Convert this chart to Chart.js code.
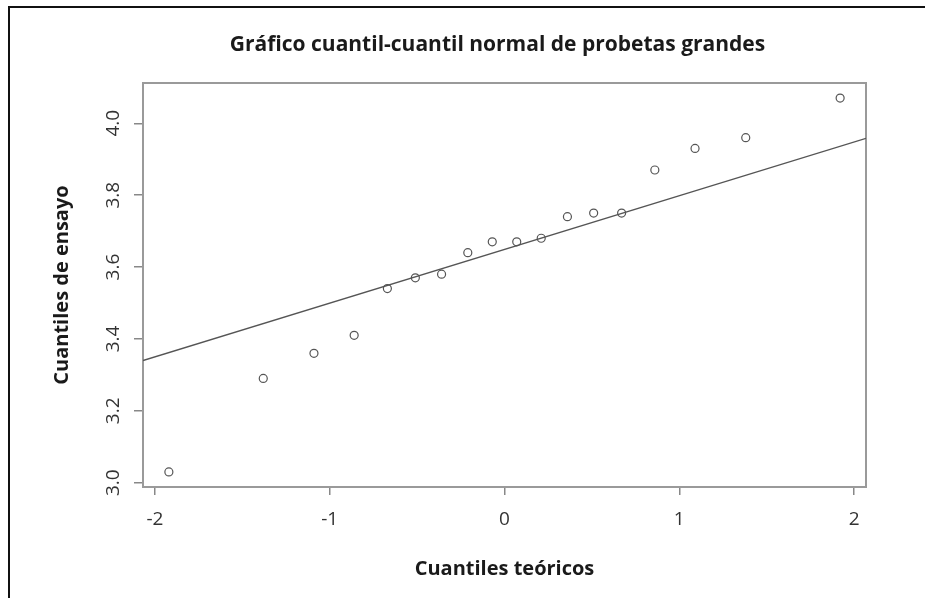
<!DOCTYPE html>
<html>
<head>
<meta charset="utf-8">
<script src="https://cdn.jsdelivr.net/npm/chart.js@4"></script>
<style>
  html, body { margin: 0; padding: 0; overflow: hidden; background: #fff; }
  #wrap { position: relative; width: 925px; height: 598px; overflow: hidden; }
  #qq { position: absolute; left: 0; top: 0; }
  #frame { position: absolute; left: 8px; top: 6px; right: -10px; bottom: -10px;
           border-top: 2px solid #111; border-left: 2.5px solid #111; pointer-events: none; }
</style>
</head>
<body>
<div id="wrap">
  <canvas id="qq" width="995" height="598"></canvas>
  <div id="frame"></div>
</div>
<script>
  // cuantiles teóricos (x) y de ensayo (y)
  const teoricos = [-1.92, -1.38, -1.09, -0.86, -0.67, -0.51, -0.36, -0.21, -0.07,
                     0.07,  0.21,  0.36,  0.51,  0.67,  0.86,  1.09,  1.38,  1.92];
  const ensayo = [3.03, 3.29, 3.36, 3.41, 3.54, 3.57, 3.58, 3.64, 3.67,
                  3.67, 3.68, 3.74, 3.75, 3.75, 3.87, 3.93, 3.96, 4.07];

  // recta de referencia (qqline), extremos en los bordes del panel
  const rectaX = [-2.068, 2.068];
  const rectaY = [3.340, 3.958];

  const xTicks = [-2, -1, 0, 1, 2];
  const xTickLabels = ['-2', '-1', '0', '1', '2'];
  const yTicks = [3.0, 3.2, 3.4, 3.6, 3.8, 4.0];
  const yTickLabels = ['3.0', '3.2', '3.4', '3.6', '3.8', '4.0'];

  const framePlugin = {
    id: 'frame',
    beforeDatasetsDraw(chart) {
      const { ctx, chartArea: a } = chart;
      ctx.save();
      ctx.strokeStyle = '#9a9a9a';
      ctx.lineWidth = 2;
      ctx.strokeRect(a.left, a.top, a.right - a.left, a.bottom - a.top);
      ctx.restore();
    }
  };

  const tickFont = { family: 'Open Sans', size: 19 };
  const titleFont = { family: 'Open Sans', size: 20, weight: 'bold' };

  new Chart(document.getElementById('qq'), {
    type: 'scatter',
    data: {
      datasets: [
        {
          data: teoricos.map((x, i) => ({ x: x, y: ensayo[i] })),
          pointStyle: 'circle',
          pointRadius: 4,
          backgroundColor: 'rgba(0,0,0,0)',
          borderColor: '#555',
          borderWidth: 1.2
        },
        {
          type: 'line',
          data: rectaX.map((x, i) => ({ x: x, y: rectaY[i] })),
          pointRadius: 0,
          borderColor: '#555',
          borderWidth: 1.4,
          fill: false
        }
      ]
    },
    options: {
      responsive: false,
      animation: false,
      layout: { padding: 0 },
      plugins: {
        legend: { display: false },
        tooltip: { enabled: false },
        title: {
          display: true,
          text: 'Gráfico cuantil-cuantil normal de probetas grandes',
          color: '#1a1a1a',
          font: { family: 'Open Sans', size: 21, weight: 'bold' },
          padding: { top: 32.4, bottom: 25.4 }
        }
      },
      scales: {
        x: {
          type: 'linear',
          min: -2.068,
          max: 2.068,
          afterBuildTicks: s => { s.ticks = xTicks.map(v => ({ value: v })); },
          afterFit: s => { s.height = 111; },
          ticks: {
            color: '#333',
            font: tickFont,
            padding: 13.6,
            autoSkip: false,
            maxRotation: 0,
            callback: (v, i) => xTickLabels[i]
          },
          grid: { drawOnChartArea: false, drawTicks: true, tickLength: 8, color: '#888', lineWidth: 1.5 },
          border: { display: true, color: '#9a9a9a', width: 2 },
          title: {
            display: true,
            text: 'Cuantiles teóricos',
            color: '#1a1a1a',
            font: titleFont,
            padding: { top: 0, bottom: 17 }
          }
        },
        y: {
          type: 'linear',
          min: 2.988,
          max: 4.112,
          afterBuildTicks: s => { s.ticks = yTicks.map(v => ({ value: v })); },
          afterFit: s => { s.width = 143; },
          ticks: {
            color: '#333',
            font: tickFont,
            padding: 7.5,
            autoSkip: false,
            minRotation: 90,
            maxRotation: 90,
            crossAlign: 'center',
            callback: (v, i) => yTickLabels[i]
          },
          grid: { drawOnChartArea: false, drawTicks: true, tickLength: 9, color: '#888', lineWidth: 1.5 },
          border: { display: true, color: '#9a9a9a', width: 2 },
          title: {
            display: true,
            text: 'Cuantiles de ensayo',
            color: '#1a1a1a',
            font: titleFont,
            padding: { top: 50, bottom: 0 }
          }
        },
        // eje vacío a la derecha: solo reserva el margen derecho del panel
        margen: {
          type: 'linear',
          position: 'right',
          afterFit: s => { s.width = 129; },
          ticks: { display: false },
          grid: { display: false },
          border: { display: false }
        }
      }
    },
    plugins: [framePlugin]
  });
</script>
</body>
</html>
